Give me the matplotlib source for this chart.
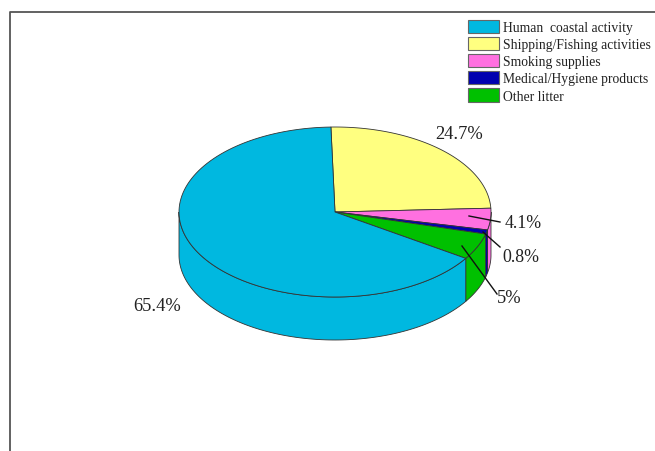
import numpy as np
from matplotlib import pyplot as plt
from matplotlib.patches import Patch, Polygon

labels = ["Human  coastal activity", "Shipping/Fishing activities", "Smoking supplies",
          "Medical/Hygiene products", "Other litter"]
values = [65.4, 24.7, 4.1, 0.8, 5.0]
pct_labels = ["65.4%", "24.7%", "4.1%", "0.8%", "5%"]
colors = ["#00B8E0", "#FFFF80", "#FF70E0", "#0000B0", "#00C000"]

# pie layout, in pixels of the picture
cx, cy = 335, 213
rx, ry = 156, 85
depth = 43
start = 91.5  # yellow slice starts here, going clockwise

plt.rcParams["font.family"] = ["Liberation Serif"]
fig = plt.figure(figsize=(6.55, 4.52), dpi=100)
ax = fig.add_axes([0, 0, 1, 1])
ax.set_xlim(0, 655)
ax.set_ylim(452, 0)
ax.axis("off")

# frame
ax.plot([9.5, 9.5, 655], [452, 12.5, 12.5], color="#555555", lw=1.3)


def rim(a0, a1, dy=0):
    t = np.radians(np.linspace(a0, a1, 120))
    return np.column_stack([cx + rx * np.cos(t), cy + dy - ry * np.sin(t)])


# slices run clockwise from yellow, blue is the rest of the circle
order = [1, 2, 3, 4, 0]
a = start
spans = {}
for i in order:
    spans[i] = (a, a - values[i] * 3.6)
    a = spans[i][1]

# side wall, only the part of each slice on the front half
for i in order:
    a0, a1 = spans[i]
    lo, hi = max(a1, -180), min(a0, 0)
    if hi <= lo:
        continue
    top = rim(hi, lo)
    bottom = rim(lo, hi, depth)
    ax.add_patch(Polygon(np.vstack([top, bottom]), fc=colors[i], ec="#333333", lw=0.6, zorder=2))

# top face
for i in order:
    a0, a1 = spans[i]
    pts = np.vstack([[[cx, cy]], rim(a0, a1)])
    ax.add_patch(Polygon(pts, fc=colors[i], ec="#333333", lw=0.6, zorder=3))

# labels with leader lines
ax.text(435, 134.5, pct_labels[1], fontsize=13.3, va="center", ha="left", color="#222222", zorder=5)
ax.text(133, 306.5, pct_labels[0], fontsize=13.3, va="center", ha="left", color="#222222", zorder=5)
ax.text(505, 224, pct_labels[2], fontsize=12.9, va="center", ha="left", color="#222222", zorder=5)
ax.text(502, 258, pct_labels[3], fontsize=12.9, va="center", ha="left", color="#222222", zorder=5)
ax.text(497, 299, pct_labels[4], fontsize=13.3, va="center", ha="left", color="#222222", zorder=5)
ax.plot([469, 500], [217, 223], color="#111111", lw=1, zorder=4)
ax.plot([483, 500], [233, 248], color="#111111", lw=1, zorder=4)
ax.plot([462, 497], [247, 295], color="#111111", lw=1, zorder=4)

handles = [Patch(fc=c, ec="#666666", lw=0.8) for c in colors]
leg = ax.legend(handles, labels, loc="upper left", bbox_to_anchor=(468 / 655, 1 - 20.5 / 452),
                bbox_transform=fig.transFigure, frameon=False, fontsize=9.85,
                handlelength=2.25, handleheight=1.1, handletextpad=0.3,
                labelspacing=0.22, borderpad=0, borderaxespad=0)
for t in leg.get_texts():
    t.set_color("#222222")

plt.savefig("out.png", dpi=100)
